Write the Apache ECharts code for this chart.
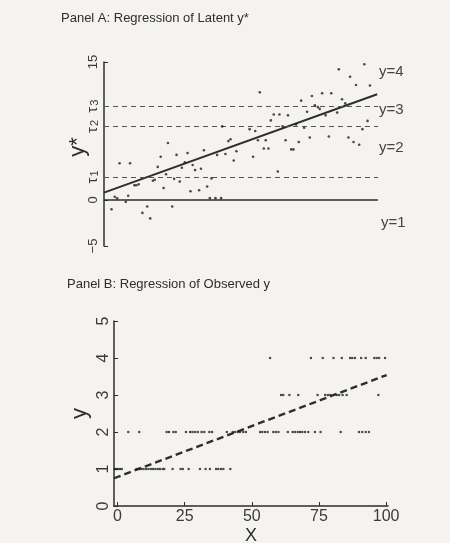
<!DOCTYPE html>
<html><head><meta charset="utf-8">
<script src="https://cdn.jsdelivr.net/npm/echarts@6/dist/echarts.min.js"></script>
<style>html,body{margin:0;padding:0;background:#f4f3ef}#c{width:450px;height:543px}</style>
</head><body><div id="c"></div>
<script>
// Panel A: latent y* observations
var latentX = [1.5, 2.7, 3.6, 4.5, 6.8, 7.7, 8.4, 10.0, 10.7, 11.6, 13.0, 14.8, 15.9, 16.9, 17.6, 18.7, 19.8, 20.9, 21.8, 22.5, 24.1, 24.8, 25.7, 26.9, 27.7, 28.8, 29.8, 30.9, 31.7, 32.6, 34.1, 34.8, 35.9, 37.1, 38.1, 38.7, 40.2, 40.8, 42.3, 42.7, 43.9, 45.0, 45.8, 47.0, 48.0, 52.9, 54.2, 55.0, 56.0, 56.7, 58.2, 58.9, 59.9, 60.8, 61.9, 63.4, 64.0, 65.2, 66.3, 67.2, 68.4, 69.2, 70.2, 71.2, 72.1, 73.2, 74.3, 75.3, 76.1, 77.2, 78.3, 79.0, 79.9, 81.2, 82.4, 83.3, 85.5, 86.1, 87.3, 88.5, 89.7, 90.3, 91.6, 92.5, 93.7, 94.9, 95.6, 96.8, 97.7, 98.4];
var latentY = [-1.0, 0.36, 0.18, 4.0, -0.2, 0.47, 4.0, 1.6, 1.6, 1.7, -1.4, -0.7, -2.0, 2.1, 2.2, 3.6, 4.7, 1.3, 2.8, 6.2, -0.7, 2.3, 4.9, 2.0, 3.5, 4.1, 5.1, 0.95, 3.8, 3.25, 1.06, 3.4, 5.4, 1.46, 0.2, 2.35, 0.2, 4.9, 0.2, 8.0, 5.0, 6.4, 6.6, 4.3, 5.3, 7.7, 4.7, 7.5, 6.5, 11.7, 5.6, 6.5, 5.6, 8.65, 9.3, 3.1, 9.3, 8.0, 6.5, 9.2, 5.5, 5.5, 8.2, 6.3, 10.8, 7.85, 9.6, 6.8, 11.3, 10.3, 10.1, 9.9, 11.6, 9.2, 6.9, 11.6, 9.5, 14.2, 10.95, 10.5, 6.8, 13.4, 6.3, 12.5, 6.0, 7.7, 14.75, 8.6, 12.45, 15.6];
var latentFitX = [-1.3, 100.4];
var latentFitY = [0.8, 11.5];
var tau = [2.5, 8.0, 10.2];
var tauLabels = ['{t|\u03c4}{s|1}', '{t|\u03c4}{s|2}', '{t|\u03c4}{s|3}'];
var latentTicks = [-5, 0, 15];
var categoryLabels = ['y=1', 'y=2', 'y=3', 'y=4'];

// Panel B: observed y (x values per observed level)
var obsX1 = [-1.0, -0.5, 0.2, 0.9, 1.6, 7.1, 8.0, 8.9, 9.7, 10.6, 11.5, 12.4, 13.2, 14.1, 15.0, 15.8, 16.8, 17.4, 20.5, 23.5, 24.3, 26.5, 30.7, 32.8, 34.4, 36.7, 37.5, 38.5, 39.4, 42.0];
var obsX2 = [4.0, 8.1, 18.3, 19.2, 20.8, 21.7, 25.5, 27.0, 27.9, 28.9, 29.9, 31.3, 32.3, 34.2, 35.2, 40.7, 42.9, 43.7, 44.7, 45.6, 46.8, 47.8, 53.1, 53.9, 54.9, 55.9, 58.0, 58.9, 59.9, 63.4, 65.2, 66.1, 67.1, 67.9, 68.8, 69.8, 71.0, 73.5, 75.6, 83.1, 89.9, 91.1, 92.4, 93.6];
var obsX3 = [60.9, 61.7, 64.0, 67.3, 74.5, 77.3, 78.3, 79.2, 81.6, 82.5, 83.8, 85.3, 97.1];
var obsX4 = [56.8, 72.0, 76.4, 80.4, 83.5, 86.6, 87.4, 88.4, 90.7, 92.4, 95.6, 96.5, 97.4, 99.6];
var obsLevels = [1, 2, 3, 4];
var obsFitX = [-1.3, 100.2];
var obsFitY = [0.75, 3.54];
var xTicks = [0, 25, 50, 75, 100];

var FONT = '"Liberation Sans", Arial, sans-serif';
var INK = '#2e2e2e';

var latentPts = latentX.map(function (x, i) { return [x, latentY[i]]; });
var obsGroups = [obsX1, obsX2, obsX3, obsX4];
var obsPts = [];
obsGroups.forEach(function (arr, k) { arr.forEach(function (x) { obsPts.push([x, obsLevels[k]]); }); });

var chart = echarts.init(document.getElementById('c'), null, { renderer: 'canvas' });
chart.setOption({
  backgroundColor: '#f4f3ef',
  animation: false,
  title: [
    { text: 'Panel A: Regression of Latent y*', left: 61, top: 12, padding: 0,
      textStyle: { fontFamily: FONT, fontSize: 13, fontWeight: 'normal', color: INK } },
    { text: 'Panel B: Regression of Observed y', left: 67, top: 278, padding: 0,
      textStyle: { fontFamily: FONT, fontSize: 13, fontWeight: 'normal', color: INK } }
  ],
  grid: [
    { left: 104, top: 62, width: 274, height: 184, outerBoundsMode: 'none', containLabel: false },
    { left: 114, top: 321, width: 274, height: 185, outerBoundsMode: 'none', containLabel: false }
  ],
  xAxis: [
    { gridIndex: 0, type: 'value', min: -1.3, max: 100.7, show: false },
    { gridIndex: 1, type: 'value', min: -1.3, max: 100.7,
      name: 'X', nameLocation: 'middle', nameGap: 21, nameMoveOverlap: false,
      nameTextStyle: { fontFamily: FONT, fontSize: 18, color: INK },
      axisLine: { show: true, onZero: false, lineStyle: { color: INK, width: 1.5 } },
      axisTick: { show: true, inside: true, length: 4, customValues: xTicks, lineStyle: { color: INK } },
      axisLabel: { customValues: xTicks, margin: 3, fontFamily: FONT, fontSize: 16, color: '#3a3a3a' },
      splitLine: { show: false } }
  ],
  yAxis: [
    { gridIndex: 0, type: 'value', min: -5, max: 15,
      name: 'y*', nameLocation: 'middle', nameGap: 15, nameRotate: 90, nameMoveOverlap: false,
      nameTextStyle: { fontFamily: FONT, fontSize: 22, color: INK, padding: [0, 0, 0, 14] },
      axisLine: { show: true, onZero: false, lineStyle: { color: INK, width: 1.5 } },
      axisTick: { show: true, inside: true, length: 4, customValues: latentTicks.concat(tau), lineStyle: { color: INK } },
      axisLabel: { customValues: latentTicks.concat(tau), rotate: 90, margin: 4,
        fontFamily: FONT, fontSize: 13, color: '#3a3a3a',
        rich: {
          t: { fontFamily: FONT, fontSize: 15, color: '#3a3a3a', verticalAlign: 'bottom' },
          s: { fontFamily: FONT, fontSize: 11, color: '#3a3a3a', verticalAlign: 'bottom', padding: [3, 0, 0, 1] }
        },
        formatter: function (v) {
          var i = tau.indexOf(v);
          return i >= 0 ? tauLabels[i] : String(v).replace('-', '\u2212');
        } },
      splitLine: { show: false } },
    { gridIndex: 1, type: 'value', min: 0, max: 5, interval: 1,
      name: 'y', nameLocation: 'middle', nameGap: 23, nameRotate: 90, nameMoveOverlap: false,
      nameTextStyle: { fontFamily: FONT, fontSize: 22, color: INK },
      axisLine: { show: true, onZero: false, lineStyle: { color: INK, width: 1.5 } },
      axisTick: { show: true, inside: true, length: 4, lineStyle: { color: INK } },
      axisLabel: { rotate: 90, margin: 2, fontFamily: FONT, fontSize: 16, color: '#3a3a3a' },
      splitLine: { show: false } }
  ],
  series: [
    { type: 'scatter', xAxisIndex: 0, yAxisIndex: 0, data: latentPts, symbol: 'circle', symbolSize: 2.6,
      itemStyle: { color: '#1e1e1e' }, z: 5,
      markLine: { silent: true, symbol: 'none', label: { show: false },
        data: [
          { yAxis: 0, lineStyle: { type: 'solid', width: 1.6, color: INK } },
          { yAxis: tau[0], lineStyle: { type: [5, 4], width: 1, color: '#555' } },
          { yAxis: tau[1], lineStyle: { type: [5, 4], width: 1, color: '#555' } },
          { yAxis: tau[2], lineStyle: { type: [5, 4], width: 1, color: '#555' } }
        ] } },
    { type: 'line', xAxisIndex: 0, yAxisIndex: 0, data: latentFitX.map(function (x, i) { return [x, latentFitY[i]]; }),
      symbol: 'none', lineStyle: { color: INK, width: 2 }, z: 4 },
    { type: 'scatter', xAxisIndex: 1, yAxisIndex: 1, data: obsPts, symbol: 'rect', symbolSize: 2.2,
      itemStyle: { color: '#1e1e1e' }, z: 5 },
    { type: 'line', xAxisIndex: 1, yAxisIndex: 1, data: obsFitX.map(function (x, i) { return [x, obsFitY[i]]; }),
      symbol: 'none', lineStyle: { color: INK, width: 2.4, type: [7, 4] }, z: 4 }
  ],
  graphic: categoryLabels.map(function (t, i) {
    var ys = [223, 148, 110, 72];
    return { type: 'text', x: i === 0 ? 381 : 379, y: ys[i],
      style: { text: t, font: '15px ' + FONT, fill: '#444', textVerticalAlign: 'middle', verticalAlign: 'middle' } };
  })
});
</script>
</body></html>
